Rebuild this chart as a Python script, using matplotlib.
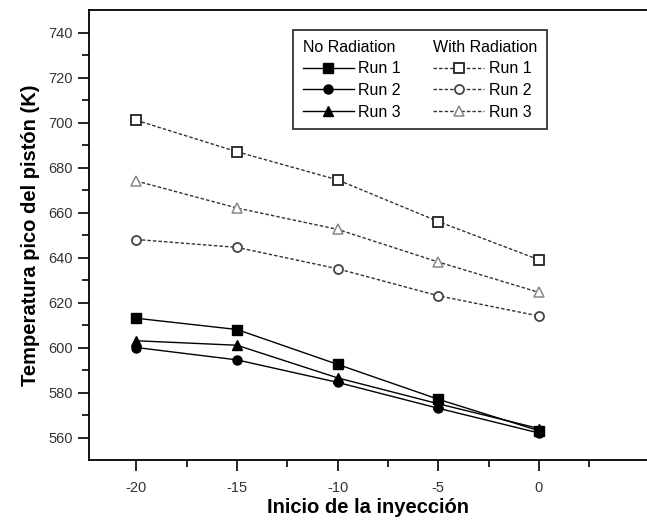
import matplotlib
matplotlib.use("Agg")
import matplotlib.pyplot as plt
from matplotlib.lines import Line2D

x = [-20, -15, -10, -5, 0]
no_rad_run1 = [613, 608, 592.5, 577, 563]
no_rad_run2 = [600, 594.5, 584.5, 573, 562]
no_rad_run3 = [603, 601, 586.5, 575, 564]
rad_run1 = [701, 687, 674.5, 656, 639]
rad_run2 = [648, 644.5, 635, 623, 614]
rad_run3 = [674, 662, 652.5, 638, 624.5]
yticks = [560, 580, 600, 620, 640, 660, 680, 700, 720, 740]
xticks = [-20, -15, -10, -5, 0]

plt.rcParams['font.family'] = ['Liberation Sans', 'DejaVu Sans']
plt.rcParams['axes.unicode_minus'] = False

fig = plt.figure(figsize=(6.47, 5.22), dpi=100)
ax = fig.add_axes([89/647, 62/522, 558/647, 450/522])

ln_kw = dict(color='black', lw=1.0, ms=6.5)
l1, = ax.plot(x, no_rad_run1, marker='s', **ln_kw)
l2, = ax.plot(x, no_rad_run2, marker='o', **ln_kw)
l3, = ax.plot(x, no_rad_run3, marker='^', **ln_kw)
dash = (0, (2.5, 1.5))
r1, = ax.plot(x, rad_run1, marker='s', ls=dash, color='#333333', lw=1.0, ms=6.5,
              mfc='white', mec='#222222', mew=1.3)
r2, = ax.plot(x, rad_run2, marker='o', ls=dash, color='#333333', lw=1.0, ms=6.5,
              mfc='white', mec='#444444', mew=1.3)
r3, = ax.plot(x, rad_run3, marker='^', ls=dash, color='#333333', lw=1.0, ms=7.5,
              mfc='white', mec='#888888', mew=1.1)

ax.set_xlim(-22.35, 5.37)
ax.set_ylim(550, 750)
ax.set_xticks(xticks)
ax.set_xticks([-17.5, -12.5, -7.5, -2.5, 2.5], minor=True)
ax.set_yticks(yticks)
ax.set_yticks([570, 590, 610, 630, 650, 670, 690, 710, 730], minor=True)
ax.tick_params(axis='both', which='major', direction='out', length=8, width=1.2,
               labelsize=10.5, labelcolor='#333333')
ax.tick_params(axis='x', which='major', pad=7)
ax.tick_params(axis='both', which='minor', direction='out', length=5, width=1.2)
ax.spines['right'].set_visible(False)
for s in ['left', 'bottom', 'top']:
    ax.spines[s].set_linewidth(1.3)

ax.set_xlabel('Inicio de la inyección', fontsize=14.5, fontweight='bold', labelpad=2)
ax.set_ylabel('Temperatura pico del pistón (K)', fontsize=14.5, fontweight='bold', labelpad=6)

blank = Line2D([], [], color='none')
handles = [blank, l1, l2, l3, blank, r1, r2, r3]
labels = ['No Radiation', 'Run 1', 'Run 2', 'Run 3', 'With Radiation', 'Run 1', 'Run 2', 'Run 3']
leg = ax.legend(handles, labels, ncol=2, loc='upper left', bbox_to_anchor=(0.3656, 0.9556),
                borderaxespad=0,
                fontsize=11.5, frameon=True, fancybox=False, edgecolor='black',
                handlelength=3.2, handletextpad=0.3, columnspacing=2.0,
                labelspacing=0.42, borderpad=0.6, markerscale=1.0)
leg.get_frame().set_linewidth(1.3)
# Remove handle box width for header rows
try:
    cols = leg._legend_handle_box.get_children()
    for col in cols:
        first = col.get_children()[0]
        da = first.get_children()[0]
        da.width = 0
        first.sep = 0
except Exception:
    pass

fig.savefig('out.png', dpi=100)
